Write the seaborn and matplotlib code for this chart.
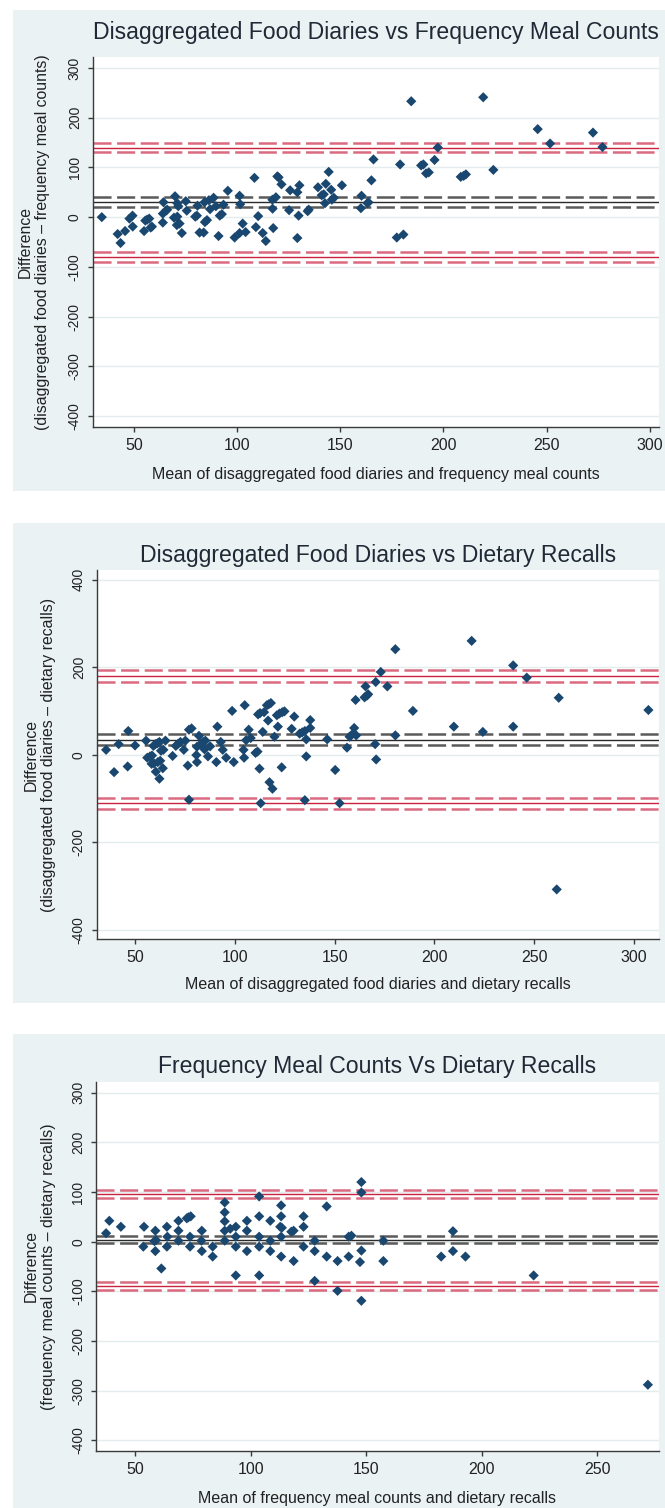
import numpy as np
import pandas as pd
import matplotlib
matplotlib.use("Agg")
import matplotlib.pyplot as plt
from matplotlib.patches import Rectangle
import seaborn as sns

# panel 1: disaggregated food diaries vs frequency meal counts
mean1 = [34.4, 42.1, 43.5, 45.7, 47.8, 49.3, 49.4, 54.9, 55.5, 56.4, 57.4, 58.1, 58.7,
         64.0, 64.0, 64.3, 65.5, 66.1, 69.9, 69.4, 71.0, 71.0, 71.5, 70.8, 72.1, 73.2,
         75.1, 75.6, 79.7, 80.5, 80.8, 81.8, 83.8, 84.4, 85.4, 84.2, 86.3, 86.9, 88.6,
         89.7, 91.0, 91.6, 92.6, 93.4, 95.5, 98.8, 101.2, 101.5, 101.2, 102.7, 104.1,
         108.4, 110.2, 109.1, 112.4, 113.9, 117.1, 118.8, 117.2, 117.5, 119.5, 120.1,
         121.5, 125.7, 125.2, 129.2, 130.2, 129.8, 129.2, 134.2, 134.7, 139.2, 141.0,
         142.0, 143.0, 144.4, 145.6, 142.6, 145.9, 146.9, 150.8, 160.3, 160.0, 163.2,
         163.6, 165.1, 166.1, 177.4, 180.6, 179.0, 184.4, 189.2, 190.3, 191.6, 192.9,
         195.7, 197.3, 208.4, 209.8, 210.9, 219.3, 224.2, 245.7, 251.7, 272.5, 277.1]
diff1 = [0, -34, -52, -28, -3, 3, -19, -28, -7, -5, -3, -21, -19,
         -11, 7, 30, 13, 15, 42, -1, 1, 28, 22, -16, -13, -32,
         32, 13, 1, 3, 23, -31, -31, -10, -6, 30, 34, 16, 39,
         22, -38, 3, 6, 25, 53, -41, 43, 26, -32, -13, -30,
         79, 2, -20, -32, -48, 35, 40, 17, -22, 82, 80,
         66, 54, 14, 50, 64, 3, -42, 12, 15, 60, 44,
         46, 67, 91, 55, 28, 35, 39, 64, 43, 18, 28,
         30, 74, 116, -41, -35, 106, 233, 104, 106, 88, 90,
         115, 140, 81, 83, 86, 241, 95, 177, 148, 170, 141]
bias1 = [20, 29.5, 39.5]
upper1 = [130, 140, 150]
lower1 = [-91, -81, -71]

# panel 2: disaggregated food diaries vs dietary recalls
mean2 = [35.6, 39.6, 41.9, 46.7, 46.4, 50.1, 55.6, 56.2, 57.6, 58.6, 58.4, 59.6, 59.3,
         60.3, 61.3, 62.3, 60.5, 61.5, 62.7, 62.3, 64.0, 63.1, 64.3, 65.3, 68.9, 70.5,
         71.7, 72.8, 74.5, 75.3, 76.5, 77.1, 77.1, 78.4, 80.8, 81.1, 82.1, 81.1, 83.0,
         84.1, 85.3, 84.9, 86.6, 87.7, 90.8, 91.3, 93.0, 94.0, 95.7, 98.7, 99.5, 104.4,
         104.7, 105.0, 105.7, 107.0, 108.0, 110.4, 111.4, 111.7, 112.7, 112.4, 113.0,
         114.0, 114.7, 116.1, 117.0, 118.1, 116.7, 117.4, 118.9, 119.9, 121.6, 121.1,
         122.4, 123.8, 124.9, 123.5, 128.5, 129.8, 132.5, 133.8, 135.1, 135.1, 135.8,
         135.8, 137.8, 137.8, 146.3, 150.3, 152.5, 156.2, 157.5, 158.5, 159.8, 160.8,
         160.5, 165.0, 166.2, 166.8, 165.5, 170.3, 170.8, 170.6, 173.1, 176.4, 180.4,
         180.4, 189.2, 209.7, 218.6, 224.2, 239.4, 239.4, 246.2, 262.2, 261.2, 307.1]
diff2 = [11, -40, 24, 54, -27, 21, 32, -7, -4, -2, -21, -20, 20,
         24, 26, 29, -39, -17, -14, -55, -31, 9, 11, 32, -3, 20,
         25, 29, 11, 32, -25, -103, 57, 60, -1, 18, 43, -17, 24,
         29, 32, 12, -4, 19, -17, 64, 29, 11, -7, 100, -17, 11,
         -7, 113, 33, 57, 38, 4, 7, 92, 95, -32, -111,
         52, 97, 113, 115, 118, 78, -63, -78, 41, 64, 90,
         94, 97, 99, -29, 59, 87, 48, 51, 54, -104, 35,
         -4, 61, 79, 35, -35, -111, 16, 41, 45, 61, 44,
         125, 131, 135, 138, 156, 24, -11, 166, 189, 156, 241,
         44, 100, 64, 260, 52, 204, 64, 176, 130, -308, 102]
bias2 = [21, 34.5, 48]
upper2 = [167, 180, 194]
lower2 = [-124, -111, -98]

# panel 3: frequency meal counts vs dietary recalls
mean3 = [37.5, 38.9, 43.9, 53.9, 53.6, 58.8, 58.4, 59.1, 58.8, 61.4, 63.8, 64.0, 63.8,
         68.8, 68.8, 68.8, 72.4, 73.1, 74.1, 73.8, 73.8, 78.9, 78.7, 78.9, 83.6, 83.6,
         88.8, 88.8, 88.8, 88.8, 88.8, 91.2, 93.6, 93.6, 93.6, 93.6, 98.4, 98.4, 98.4,
         103.7, 103.7, 103.7, 103.7, 103.7, 108.5, 108.5, 108.5, 113.2, 113.2, 112.8,
         113.5, 113.2, 113.2, 117.6, 118.6, 118.6, 122.9, 122.9, 122.9, 127.7, 127.7,
         127.7, 132.9, 132.9, 137.6, 137.6, 142.4, 143.6, 142.4, 147.3, 147.9, 147.9,
         147.9, 147.9, 157.4, 157.4, 182.4, 187.5, 187.5, 192.9, 222.4, 271.8]
diff3 = [17, 42, 30, 30, -10, 22, 1, 3, -19, -54, 30, 10, -10,
         42, 22, 2, 47, 49, 51, 10, -10, 22, 2, -19, -10, -30,
         79, 59, 41, 22, 2, 26, 30, 10, -10, -68, 42, 22, -19,
         91, 51, 10, -10, -68, 42, 2, -19, 73, 51, 30,
         28, 10, -30, 20, 22, -39, 51, 30, -10, 2, -19,
         -79, 71, -30, -39, -99, 10, 12, -30, -41, -18, 99,
         120, -119, 2, -39, -30, 21, -19, -30, -68, -288]
bias3 = [-3, 4, 11]
upper3 = [88, 96, 104]
lower3 = [-97, -89, -81]

titles = ["Disaggregated Food Diaries vs Frequency Meal Counts",
          "Disaggregated Food Diaries vs Dietary Recalls",
          "Frequency Meal Counts Vs Dietary Recalls"]
xlabels = ["Mean of disaggregated food diaries and frequency meal counts",
           "Mean of disaggregated food diaries and dietary recalls",
           "Mean of frequency meal counts and dietary recalls"]
ylabels = ["Difference\n(disaggregated food diaries \u2013 frequency meal counts)",
           "Difference\n(disaggregated food diaries \u2013 dietary recalls)",
           "Difference\n(frequency meal counts \u2013 dietary recalls)"]
xticks = [[50, 100, 150, 200, 250, 300], [50, 100, 150, 200, 250, 300],
          [50, 100, 150, 200, 250]]
yticks = [[-400, -300, -200, -100, 0, 100, 200, 300], [-400, -200, 0, 200, 400],
          [-400, -300, -200, -100, 0, 100, 200, 300]]

sns.set_style("white")
plt.rcParams['font.family'] = ['Liberation Sans', 'DejaVu Sans']
plt.rcParams['axes.unicode_minus'] = False

W, H = 665, 1508
fig = plt.figure(figsize=(W / 100, H / 100), dpi=100)

BG = "#eaf2f3"
NAVY = "#1a476f"
RED_SOLID = "#c8223f"
RED_DASH = "#da6a80"
BLK_SOLID = "#2a2a2a"
BLK_DASH = "#5a5a5a"

# layout in pixels: panel bg (top, bottom), axes (left, top, bottom), title baseline
panels = [
    dict(bg=(10, 491), ax=(92.7, 57, 427), title_y=39.5, xlab_y=475,
         xlim=(30, 304.5), ylim=(-422, 322)),
    dict(bg=(522.7, 1003.3), ax=(96.7, 570, 939.3), title_y=561.5, xlab_y=985,
         xlim=(30.9, 312.4), ylim=(-422, 422)),
    dict(bg=(1034, 1530), ax=(95.9, 1081.7, 1451.3), title_y=1073.5, xlab_y=1498,
         xlim=(33.1, 276.6), ylim=(-422, 322)),
]
data = [(mean1, diff1, bias1, upper1, lower1),
        (mean2, diff2, bias2, upper2, lower2),
        (mean3, diff3, bias3, upper3, lower3)]
right_px = 659

for i, p in enumerate(panels):
    top, bot = p["bg"]
    fig.patches.append(Rectangle((13 / W, 1 - bot / H), 1.0, (bot - top) / H,
                                 transform=fig.transFigure, facecolor=BG,
                                 edgecolor="none", zorder=-10))
    left, atop, abot = p["ax"]
    ax = fig.add_axes([left / W, 1 - abot / H, (right_px - left) / W, (abot - atop) / H])
    ax.set_zorder(2)
    ax.set_facecolor("white")

    mean, diff, bias, upper, lower = data[i]
    df = pd.DataFrame({"mean": mean, "diff": diff})

    # mean difference and limits of agreement, each with its confidence band
    for vals, solid_c, dash_c in [(bias, BLK_SOLID, BLK_DASH),
                                  (upper, RED_SOLID, RED_DASH),
                                  (lower, RED_SOLID, RED_DASH)]:
        ax.axhline(vals[1], color=solid_c, lw=1.0, zorder=2)
        for v in (vals[0], vals[2]):
            ax.axhline(v, color=dash_c, lw=1.8, dashes=(13 / 1.8, 4 / 1.8), zorder=2)

    sns.scatterplot(data=df, x="mean", y="diff", ax=ax, marker="D", s=27,
                    color=NAVY, edgecolor="none", linewidth=0, zorder=3)

    ax.set_xlim(*p["xlim"])
    ax.set_ylim(*p["ylim"])
    ax.set_xticks(xticks[i])
    ax.set_yticks(yticks[i])
    ax.grid(axis="y", color="#e3ecef", lw=1.0, zorder=0)
    ax.grid(axis="x", visible=False)
    ax.set_axisbelow(True)
    for s in ["top", "right"]:
        ax.spines[s].set_visible(False)
    for s in ["left", "bottom"]:
        ax.spines[s].set_color("#3a3a3a")
        ax.spines[s].set_linewidth(1.0)
    ax.tick_params(axis="both", direction="out", length=3.8, width=1.0,
                   color="#3a3a3a", left=True, bottom=True)
    ax.tick_params(axis="x", labelsize=11.5, pad=4, labelcolor="#222222")
    ax.tick_params(axis="y", labelsize=10, pad=4, labelrotation=90, labelcolor="#222222")
    for lab in ax.get_yticklabels():
        lab.set_va("center")

    fig.text((left + right_px) / 2 / W, 1 - p["title_y"] / H, titles[i],
             ha="center", va="baseline", fontsize=16.6, color="#1f2a36", zorder=5)

    ax.set_xlabel(xlabels[i], fontsize=11.5, color="#222222")
    ax.xaxis.set_label_coords(0.5, -(p["xlab_y"] - abot) / (abot - atop))
    ax.xaxis.label.set_va("center")

    ax.set_ylabel(ylabels[i], fontsize=11.4, color="#222222", linespacing=1.25)
    ylab_x = 34 if i == 0 else 40
    ax.yaxis.set_label_coords(-(left - ylab_x) / (right_px - left), 0.5)
    ax.yaxis.label.set_va("center")

fig.savefig("out.png", dpi=100)
